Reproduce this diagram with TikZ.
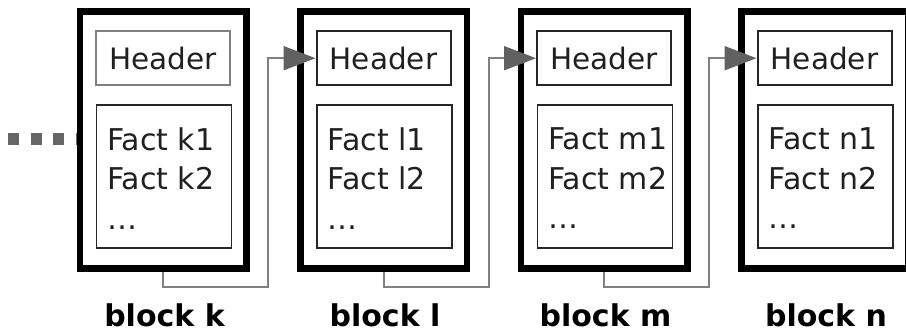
\documentclass[tikz,border=0pt]{standalone}
\usepackage{fontspec}
\setmainfont{DejaVu Sans}
\usetikzlibrary{arrows.meta,calc}
\definecolor{txt}{HTML}{202020}
\begin{document}
\begin{tikzpicture}[x=1pt,y=-1pt,
  outerbox/.style={draw=black,line width=6.5pt,minimum width=166.7pt,minimum height=256.6pt,inner sep=0pt},
  headbox/.style={draw=#1,line width=2pt,minimum width=134pt,minimum height=54.5pt,inner sep=0pt,
     text=txt,font=\fontsize{29.5}{35}\selectfont},
  factbox/.style={draw=black!85,line width=1.8pt,minimum width=135pt,minimum height=143pt,inner sep=0pt},
  facttext/.style={inner sep=0pt,align=left,text=txt,font=\fontsize{30}{39.5}\selectfont},
  lab/.style={inner sep=0pt,text=black,font=\bfseries\fontsize{30}{36}\selectfont},
  conn/.style={draw=black!50,line width=2pt,-{Triangle[length=32pt,width=24pt,fill=black!62,color=black!62]}},
  dotline/.style={draw=black!60,line width=12.5pt,dash pattern=on 11pt off 11.5pt}]
\useasboundingbox (0,0) rectangle (906,333);
\clip (0,0) rectangle (906,333);
\foreach \n/\dx/\hc in {k/0/black!50,l/220.5/black!85,m/441/black!85,n/661.5/black!85}{
  \node[outerbox] (b\n) at (163.3+\dx,140) {};
  \node[headbox=\hc] (h\n) at (163+\dx,58.2) {Header};
  \node[factbox] (f\n) at (164+\dx,176.5) {};
  \node[facttext,anchor=north west] (t\n) at (107+\dx,127.5) {Fact \n1\\Fact \n2\\\ldots};
  \node[lab,anchor=base] (l\n) at (164.5+\dx,326.5) {block \n};
}
\coordinate (dstart) at (8,139);
\draw[dotline] (dstart) -- (bk.west |- dstart);
\foreach \a/\b/\dx in {k/l/0,l/m/220.5,m/n/441}{
  \coordinate (c\a) at (268+\dx,287);
  \draw[conn] (b\a.south) |- (c\a) |- (h\b.west);
}
\end{tikzpicture}
\end{document}
